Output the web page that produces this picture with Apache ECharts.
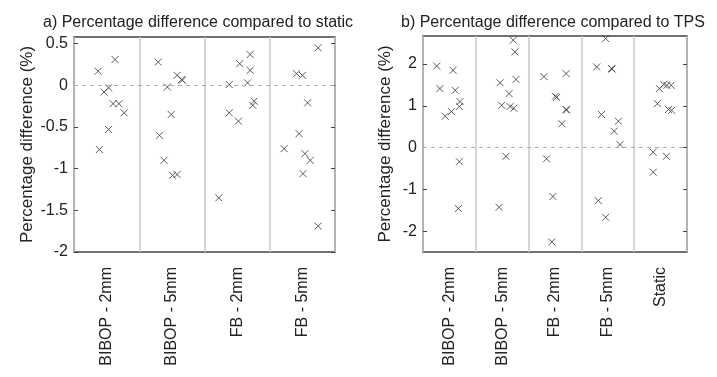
<!DOCTYPE html>
<html>
<head>
<meta charset="utf-8">
<script src="https://cdn.jsdelivr.net/npm/echarts@6/dist/echarts.min.js"></script>
<style>
  html, body { margin: 0; background: #fff; }
  #chart { width: 717px; height: 377px; }
</style>
</head>
<body>
<div id="chart"></div>
<script>
// categories
const groupsA = ['BIBOP - 2mm', 'BIBOP - 5mm', 'FB - 2mm', 'FB - 5mm'];
const groupsB = ['BIBOP - 2mm', 'BIBOP - 5mm', 'FB - 2mm', 'FB - 5mm', 'Static'];
// tick labels
const ticksA = [-2, -1.5, -1, -0.5, 0, 0.5];
const ticksB = [-2, -1, 0, 1, 2];

// a) % difference compared to static, one list per group
const vsStaticY = [
  [0.17, 0.31, -0.08, -0.03, -0.22, -0.22, -0.33, -0.53, -0.77],
  [0.28, -0.02, 0.12, 0.07, 0.06, -0.35, -0.60, -0.90, -1.08, -1.07],
  [0.37, 0.26, 0.18, 0.01, 0.03, -0.19, -0.24, -0.33, -0.43, -1.35],
  [0.45, 0.14, 0.12, -0.21, -0.58, -0.76, -0.82, -0.90, -1.06, -1.69]
];
// horizontal spread of each point inside its group (0..1)
const vsStaticPos = [
  [0.37, 0.63, 0.46, 0.53, 0.60, 0.69, 0.77, 0.53, 0.39],
  [0.29, 0.43, 0.58, 0.65, 0.66, 0.49, 0.31, 0.38, 0.51, 0.58],
  [0.70, 0.54, 0.70, 0.38, 0.66, 0.76, 0.74, 0.38, 0.52, 0.22],
  [0.74, 0.41, 0.50, 0.58, 0.45, 0.22, 0.54, 0.62, 0.51, 0.74]
];

// b) % difference compared to TPS
const vsTpsY = [
  [1.95, 1.41, 1.85, 1.37, 0.75, 0.86, 1.10, 0.98, -0.34, -1.46],
  [2.57, 2.29, 1.55, 1.63, 1.29, 1.01, 0.98, 0.94, -0.21, -1.43],
  [1.70, 1.77, 1.23, 1.20, 0.91, 0.90, 0.57, -0.27, -1.17, -2.26],
  [2.61, 1.93, 1.89, 1.88, 0.79, 0.63, 0.39, 0.07, -1.27, -1.67],
  [1.41, 1.51, 1.49, 1.49, 1.05, 0.91, 0.89, -0.11, -0.21, -0.59]
];
const vsTpsPos = [
  [0.26, 0.32, 0.57, 0.61, 0.42, 0.54, 0.70, 0.69, 0.69, 0.67],
  [0.71, 0.74, 0.46, 0.76, 0.63, 0.49, 0.65, 0.72, 0.57, 0.44],
  [0.29, 0.71, 0.51, 0.53, 0.71, 0.72, 0.63, 0.34, 0.46, 0.44],
  [0.46, 0.29, 0.57, 0.58, 0.38, 0.70, 0.62, 0.73, 0.32, 0.46],
  [0.48, 0.56, 0.62, 0.70, 0.44, 0.65, 0.71, 0.36, 0.61, 0.36]
];

function toPoints(ys, pos) {
  const out = [];
  ys.forEach((list, g) => list.forEach((v, i) => out.push([g + pos[g][i], v])));
  return out;
}

const font = 'Liberation Sans, Arial, sans-serif';
const textColor = '#222';

function catAxis(grid, data) {
  return {
    type: 'category', gridIndex: grid, data: data, boundaryGap: true,
    axisLine: { show: false }, axisTick: { show: false },
    splitLine: { show: true, lineStyle: { color: '#c8c8c8', width: 1.5 } },
    axisLabel: { rotate: 90, margin: 15, fontSize: 16, color: textColor, fontFamily: font }
  };
}
function posAxis(grid, n) {
  return { type: 'value', gridIndex: grid, min: 0, max: n, show: false };
}
function valAxis(grid, min, max, ticks, side, gap) {
  const left = side === 'left';
  return {
    type: 'value', gridIndex: grid, position: side, min: min, max: max,
    name: left ? 'Percentage difference (%)' : '',
    nameLocation: 'middle', nameGap: gap,
    nameTextStyle: { fontSize: 17, color: textColor, fontFamily: font },
    axisLine: { show: false },
    axisTick: { show: true, inside: true, length: 4, customValues: ticks, lineStyle: { color: '#444' } },
    axisLabel: { show: left, customValues: ticks, margin: 6, fontSize: 16, color: textColor, fontFamily: font },
    splitLine: { show: false }
  };
}

const cross = 'path://M0,0L10,10M10,0L0,10';
function scatter(xi, yi, data) {
  return {
    type: 'scatter', xAxisIndex: xi, yAxisIndex: yi, data: data,
    symbol: cross, symbolSize: 7,
    itemStyle: { color: 'none', borderColor: '#333', borderWidth: 1 },
    markLine: {
      silent: true, symbol: 'none', label: { show: false },
      lineStyle: { color: '#aaa', type: [4, 4], width: 1 },
      data: [{ yAxis: 0 }]
    }
  };
}

const chart = echarts.init(document.getElementById('chart'));
chart.setOption({
  animation: false,
  backgroundColor: '#fff',
  title: [
    { text: 'a) Percentage difference compared to static', left: 38, top: 10,
      textStyle: { fontSize: 16, fontWeight: 'normal', color: textColor, fontFamily: font } },
    { text: 'b) Percentage difference compared to TPS', left: 396, top: 10,
      textStyle: { fontSize: 16, fontWeight: 'normal', color: textColor, fontFamily: font } }
  ],
  grid: [
    { left: 74, top: 37, width: 261, height: 215, show: true, borderColor: '#444', borderWidth: 1.5 },
    { left: 423, top: 36, width: 264, height: 216, show: true, borderColor: '#444', borderWidth: 1.5 }
  ],
  xAxis: [catAxis(0, groupsA), posAxis(0, groupsA.length), catAxis(1, groupsB), posAxis(1, groupsB.length)],
  yAxis: [
    valAxis(0, -2, 0.58, ticksA, 'left', 38),
    valAxis(0, -2, 0.58, ticksA, 'right', 0),
    valAxis(1, -2.5, 2.67, ticksB, 'left', 29),
    valAxis(1, -2.5, 2.67, ticksB, 'right', 0)
  ],
  series: [
    scatter(1, 0, toPoints(vsStaticY, vsStaticPos)),
    scatter(3, 2, toPoints(vsTpsY, vsTpsPos))
  ]
});
</script>
</body>
</html>
